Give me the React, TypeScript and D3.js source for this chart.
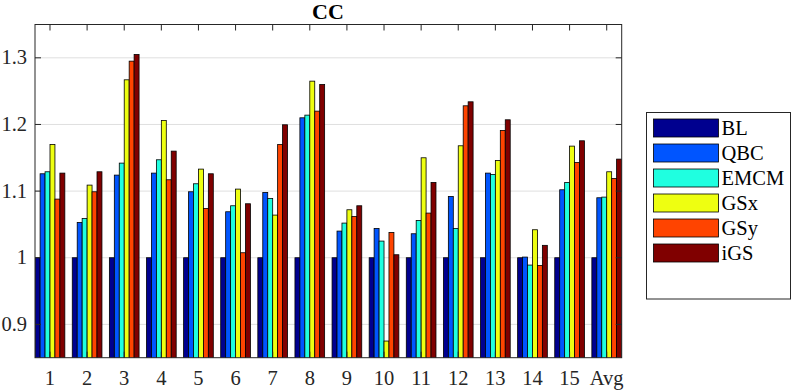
import React, { useEffect, useRef } from "react";
import * as d3 from "d3";

const categories = ["1", "2", "3", "4", "5", "6", "7", "8", "9", "10", "11", "12", "13", "14", "15", "Avg"];
const seriesNames = ["BL", "QBC", "EMCM", "GSx", "GSy", "iGS"];
const seriesColors = ["#00008f", "#0055ff", "#1fffe0", "#eeff11", "#ff4400", "#800000"];

const BL = [1, 1, 1, 1, 1, 1, 1, 1, 1, 1, 1, 1, 1, 1, 1, 1];
const QBC = [1.126, 1.053, 1.124, 1.127, 1.099, 1.069, 1.098, 1.21, 1.04, 1.044, 1.036, 1.092, 1.127, 1.001, 1.102, 1.09];
const EMCM = [1.129, 1.059, 1.142, 1.147, 1.111, 1.078, 1.089, 1.214, 1.052, 1.025, 1.056, 1.044, 1.125, 0.989, 1.113, 1.091];
const GSx = [1.17, 1.109, 1.267, 1.206, 1.133, 1.103, 1.064, 1.265, 1.072, 0.875, 1.15, 1.168, 1.146, 1.042, 1.1675, 1.129];
const GSy = [1.088, 1.099, 1.295, 1.117, 1.074, 1.0075, 1.17, 1.22, 1.062, 1.038, 1.067, 1.228, 1.191, 0.9885, 1.143, 1.119];
const iGS = [1.127, 1.129, 1.305, 1.16, 1.126, 1.081, 1.1995, 1.26, 1.078, 1.0045, 1.113, 1.234, 1.207, 1.0186, 1.1755, 1.148];
const yTicks = [0.9, 1, 1.1, 1.2, 1.3];
const yTickLabels = ["0.9", "1", "1.1", "1.2", "1.3"];

const allSeries = [BL, QBC, EMCM, GSx, GSy, iGS];

const W = 797, H = 392;
const margin = { top: 24.5, right: 175.3, bottom: 34.3, left: 35 };
const FONT = "'Liberation Serif', 'Times New Roman', serif";

export default function App() {
  const ref = useRef<SVGSVGElement>(null);

  useEffect(() => {
    const svg = d3.select(ref.current);
    svg.selectAll("*").remove();

    const x = d3.scaleLinear().domain([0.596, 16.404]).range([margin.left, W - margin.right]);
    const y = d3.scaleLinear().domain([0.85, 1.35]).range([H - margin.bottom, margin.top]);
    const x0 = margin.left, x1 = W - margin.right, y0 = H - margin.bottom, y1 = margin.top;

    // grid
    svg.append("g").selectAll("line").data(yTicks).join("line")
      .attr("x1", x0).attr("x2", x1)
      .attr("y1", d => y(d)).attr("y2", d => y(d))
      .attr("stroke", "#dfdfdf").attr("stroke-width", 1);

    // bars
    const slot = 0.8 / allSeries.length;
    const clip = svg.append("clipPath").attr("id", "plotclip");
    clip.append("rect").attr("x", x0).attr("y", y1).attr("width", x1 - x0).attr("height", y0 - y1);
    const bars = svg.append("g").attr("clip-path", "url(#plotclip)");
    allSeries.forEach((vals, si) => {
      bars.append("g").selectAll("rect").data(vals).join("rect")
        .attr("x", (d, i) => x(i + 1 + (si - 2.5) * slot - slot / 2))
        .attr("width", x(slot) - x(0))
        .attr("y", d => y(d))
        .attr("height", d => y0 + 2 - y(d))
        .attr("fill", seriesColors[si])
        .attr("stroke", "#000").attr("stroke-width", 0.8);
    });

    // box
    const axisColor = "#262626";
    svg.append("rect").attr("x", x0).attr("y", y1).attr("width", x1 - x0).attr("height", y0 - y1)
      .attr("fill", "none").attr("stroke", axisColor).attr("stroke-width", 1);

    // x ticks (inward) and labels
    categories.forEach((c, i) => {
      const cx = x(i + 1);
      svg.append("line").attr("x1", cx).attr("x2", cx).attr("y1", y1).attr("y2", y1 + 6)
        .attr("stroke", axisColor);
      svg.append("line").attr("x1", cx).attr("x2", cx).attr("y1", y0).attr("y2", y0 - 6)
        .attr("stroke", axisColor);
      svg.append("text").attr("x", cx).attr("y", y0 + 27).attr("text-anchor", "middle")
        .attr("font-family", FONT).attr("font-size", 20.5).attr("fill", "#262626").text(c);
    });

    // y ticks
    yTicks.forEach((t, i) => {
      svg.append("line").attr("x1", x0).attr("x2", x0 + 6).attr("y1", y(t)).attr("y2", y(t)).attr("stroke", axisColor);
      svg.append("line").attr("x1", x1).attr("x2", x1 - 6).attr("y1", y(t)).attr("y2", y(t)).attr("stroke", axisColor);
      svg.append("text").attr("x", x0 - 8).attr("y", y(t) + 6.5).attr("text-anchor", "end")
        .attr("font-family", FONT).attr("font-size", 20.5).attr("fill", "#262626").text(yTickLabels[i]);
    });

    // title
    svg.append("text").attr("x", 328).attr("y", 19).attr("text-anchor", "middle")
      .attr("font-family", FONT).attr("font-size", 22).attr("font-weight", "bold").attr("fill", "#000").text("CC");

    // legend
    const lg = svg.append("g");
    lg.append("rect").attr("x", 646.5).attr("y", 112.5).attr("width", 144).attr("height", 186.5)
      .attr("fill", "#fff").attr("stroke", axisColor).attr("stroke-width", 1);
    seriesNames.forEach((n, i) => {
      const ry = 119 + i * 25;
      lg.append("rect").attr("x", 653.5).attr("y", ry).attr("width", 65).attr("height", 18)
        .attr("fill", seriesColors[i]).attr("stroke", "#000").attr("stroke-width", 0.8);
      lg.append("text").attr("x", 721.5).attr("y", ry + 16).attr("font-family", FONT).attr("font-size", 20.5)
        .attr("fill", "#000").text(n);
    });
  }, []);

  return <svg ref={ref} width={W} height={H} style={{ position: "absolute", left: 0, top: 0, background: "#fff" }} />;
}
